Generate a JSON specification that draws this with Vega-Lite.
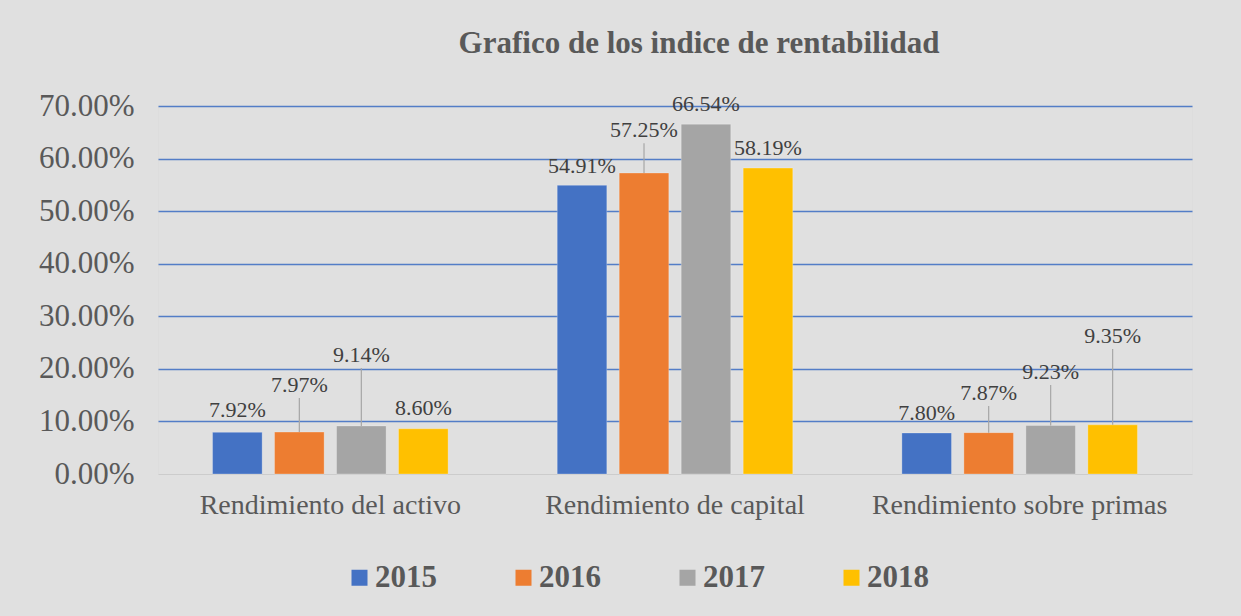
{
  "$schema": "https://vega.github.io/schema/vega-lite/v6.json",
  "width": 1034,
  "height": 368,
  "autosize": {"type": "none"},
  "padding": {"left": 158, "top": 106, "right": 49, "bottom": 142},
  "background": "#e0e0e0",
  "config": {"font": "Liberation Serif, DejaVu Serif, serif"},
  "title": {
    "text": "Grafico de los indice de rentabilidad",
    "font": "Liberation Serif, DejaVu Serif, serif",
    "fontSize": 31,
    "fontWeight": "bold",
    "color": "#595959",
    "anchor": "middle",
    "dx": 24,
    "offset": 30
  },
  "data": {
    "values": [
      {"indicador": "Rendimiento del activo", "anio": "2015", "valor": 0.0792, "etiqueta_en": 0.1217},
      {"indicador": "Rendimiento del activo", "anio": "2016", "valor": 0.0797, "etiqueta_en": 0.1693},
      {"indicador": "Rendimiento del activo", "anio": "2017", "valor": 0.0914, "etiqueta_en": 0.2264},
      {"indicador": "Rendimiento del activo", "anio": "2018", "valor": 0.0860, "etiqueta_en": 0.1255},
      {"indicador": "Rendimiento de capital", "anio": "2015", "valor": 0.5491, "etiqueta_en": 0.5860},
      {"indicador": "Rendimiento de capital", "anio": "2016", "valor": 0.5725, "etiqueta_en": 0.6540},
      {"indicador": "Rendimiento de capital", "anio": "2017", "valor": 0.6654, "etiqueta_en": 0.7038},
      {"indicador": "Rendimiento de capital", "anio": "2018", "valor": 0.5819, "etiqueta_en": 0.6200},
      {"indicador": "Rendimiento sobre primas", "anio": "2015", "valor": 0.0780, "etiqueta_en": 0.1160},
      {"indicador": "Rendimiento sobre primas", "anio": "2016", "valor": 0.0787, "etiqueta_en": 0.1540},
      {"indicador": "Rendimiento sobre primas", "anio": "2017", "valor": 0.0923, "etiqueta_en": 0.1940},
      {"indicador": "Rendimiento sobre primas", "anio": "2018", "valor": 0.0935, "etiqueta_en": 0.2625}
    ]
  },
  "encoding": {
    "x": {
      "field": "indicador",
      "type": "nominal",
      "sort": null,
      "scale": {"paddingInner": 0, "paddingOuter": 0},
      "axis": {
        "title": null,
        "labelAngle": 0,
        "labelLimit": 0,
        "ticks": false,
        "domain": true,
        "domainColor": "#cccccc",
        "domainWidth": 1,
        "labelPadding": 17,
        "labelFont": "Liberation Serif, DejaVu Serif, serif",
        "labelFontSize": 28,
        "labelColor": "#595959"
      }
    },
    "xOffset": {
      "field": "anio",
      "type": "nominal",
      "sort": null,
      "scale": {"paddingInner": 0.2, "paddingOuter": 0.88}
    }
  },
  "layer": [
    {
      "mark": {"type": "bar", "stroke": "#ffffff", "strokeOpacity": 0.25, "strokeWidth": 1},
      "encoding": {
        "y": {
          "field": "valor",
          "type": "quantitative",
          "scale": {"domain": [0, 0.7], "nice": false},
          "axis": {
            "title": null,
            "format": ".2%",
            "values": [0, 0.1, 0.2, 0.3, 0.4, 0.5, 0.6, 0.7],
            "ticks": false,
            "domain": false,
            "labelPadding": 24,
            "labelFont": "Liberation Serif, DejaVu Serif, serif",
            "labelFontSize": 31,
            "labelColor": "#595959",
            "gridColor": {"condition": {"test": "datum.value === 0", "value": "transparent"}, "value": "#4472c4"},
            "gridWidth": 1.3,
            "gridOpacity": 0.9
          }
        },
        "color": {
          "field": "anio",
          "type": "nominal",
          "sort": null,
          "scale": {"domain": ["2015", "2016", "2017", "2018"], "range": ["#4472c4", "#ed7d31", "#a5a5a5", "#ffc000"]},
          "legend": {
            "title": null,
            "orient": "none",
            "legendX": 186,
            "legendY": 456,
            "direction": "horizontal",
            "symbolType": "square",
            "symbolSize": 256,
            "symbolStrokeWidth": 0,
            "labelFont": "Liberation Serif, DejaVu Serif, serif",
            "labelFontSize": 31,
            "labelFontWeight": "bold",
            "labelColor": "#595959",
            "labelOffset": 0,
            "columnPadding": 71
          }
        }
      }
    },
    {
      "transform": [{"filter": "datum.etiqueta_en - datum.valor > 0.05"}],
      "mark": {"type": "rule", "color": "#a6a6a6", "strokeWidth": 1.2, "y2Offset": 13},
      "encoding": {
        "y": {"field": "valor", "type": "quantitative"},
        "y2": {"field": "etiqueta_en"}
      }
    },
    {
      "mark": {"type": "text", "font": "Liberation Serif, DejaVu Serif, serif", "fontSize": 22, "color": "#404040", "baseline": "middle"},
      "encoding": {
        "y": {"field": "etiqueta_en", "type": "quantitative"},
        "text": {"field": "valor", "type": "quantitative", "format": ".2%"}
      }
    }
  ]
}
